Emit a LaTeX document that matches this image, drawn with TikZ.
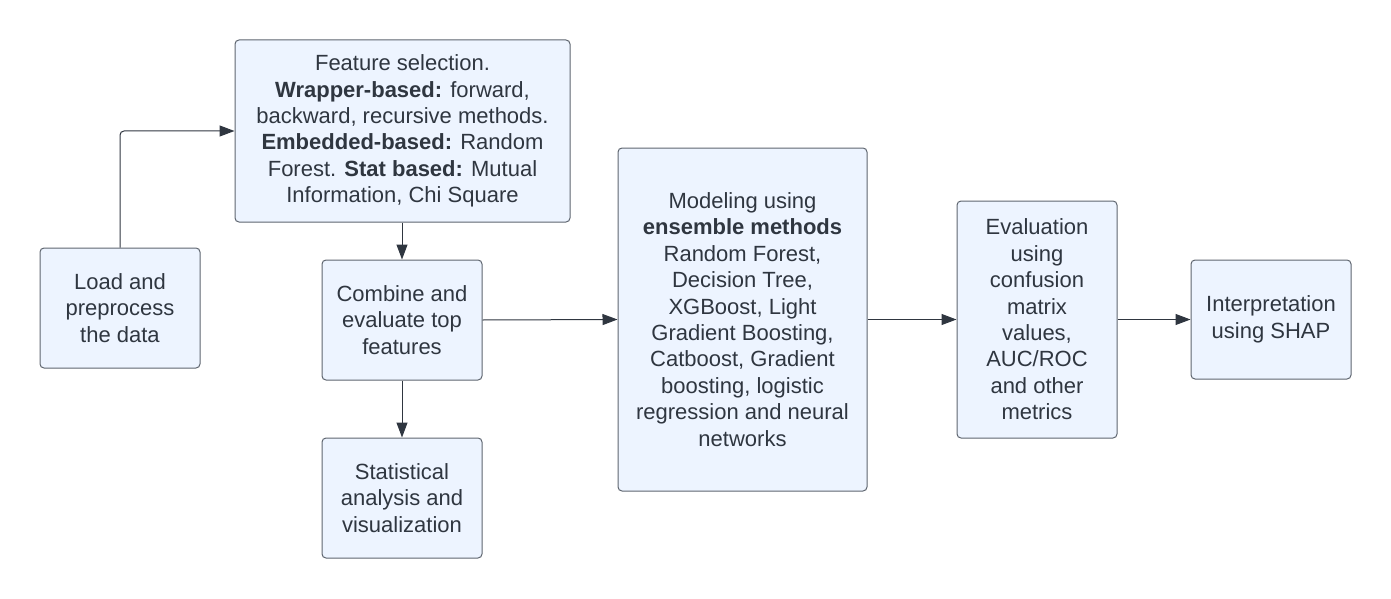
\documentclass[tikz,border=0pt]{standalone}
\usepackage{fontspec}
\setmainfont{Liberation Sans}
\usepackage{xcolor}
\usetikzlibrary{arrows.meta}
\definecolor{boxfill}{HTML}{EDF4FF}
\definecolor{boxline}{HTML}{5F6670}
\definecolor{inkgray}{HTML}{2F3640}
\tikzset{
	stage/.style={draw=boxline, fill=boxfill, rounded corners=4pt, line width=1pt,
		align=center, text=inkgray, inner sep=0pt,
		font=\fontsize{22}{26.4}\selectfont},
	flow/.style={draw=inkgray, line width=1pt, -{Triangle[length=15pt,width=11pt]}}
}
\begin{document}
\begin{tikzpicture}[x=1pt,y=-1pt]
	\useasboundingbox (0,0) rectangle (1391,599);
	
	\node[stage, minimum width=160pt, minimum height=120pt] (load) at (120,308) {Load and\\preprocess\\the data};
	\node[stage, minimum width=335pt, minimum height=182pt] (select) at (402.5,131) {Feature selection.\\\textbf{Wrapper-based:} forward,\\backward, recursive methods.\\\textbf{Embedded-based:} Random\\Forest. \textbf{Stat based:} Mutual\\Information, Chi Square};
	\node[stage, minimum width=160pt, minimum height=120pt] (combine) at (402,320) {Combine and\\evaluate top\\features};
	\node[stage, minimum width=160pt, minimum height=120pt] (stats) at (402,498) {Statistical\\analysis and\\visualization};
	\node[stage, minimum width=249pt, minimum height=343pt] (model) at (742.5,319.5) {Modeling using\\\textbf{ensemble methods}\\Random Forest,\\Decision Tree,\\XGBoost, Light\\Gradient Boosting,\\Catboost, Gradient\\boosting, logistic\\regression and neural\\networks};
	\node[stage, minimum width=160pt, minimum height=237pt] (eval) at (1037,319.5) {Evaluation\\using\\confusion\\matrix\\values,\\AUC/ROC\\and other\\metrics};
	\node[stage, minimum width=160pt, minimum height=119pt] (interp) at (1271,319.5) {Interpretation\\using SHAP};
	
	\draw[flow, rounded corners=4pt] (load.north) |- (select.west);
	\draw[flow] (select.south -| combine.north) -- (combine.north);
	\draw[flow] (combine.south) -- (stats.north);
	\draw[flow] (combine.east) -- (model.west);
	\draw[flow] (model.east) -- (eval.west);
	\draw[flow] (eval.east) -- (interp.west);
\end{tikzpicture}
\end{document}
